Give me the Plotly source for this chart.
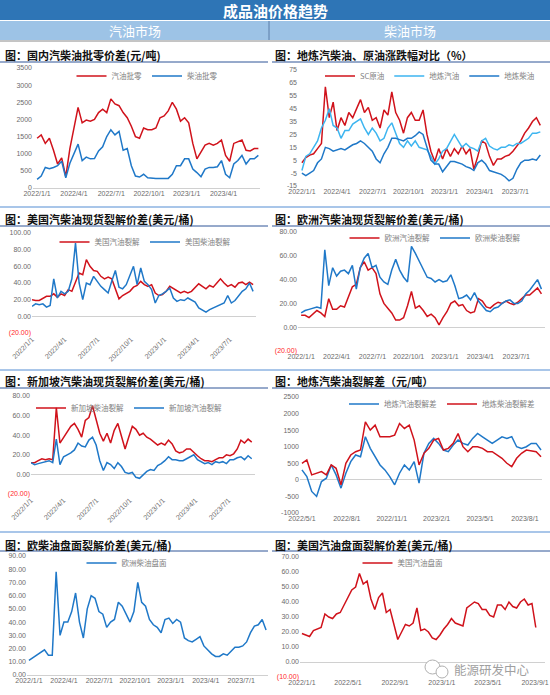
import pandas as pd
import plotly.graph_objects as go

W, H = 550, 695

# ---- values, one point every 10 days ----
retail_start = '2022-01-01'
retail_gasoline = [1450, 1550, 1300, 1450, 1100, 700, 880, 330, 1150, 1800,
                   2350, 1900, 1980, 1950, 2000, 2200, 2300, 2200, 2600, 2450,
                   2400, 2200, 2050, 1800, 1500, 1450, 1750, 1700, 1700, 1750,
                   2050, 2100, 2250, 2500, 2300, 1950, 2050, 1900, 1300, 850,
                   1050, 1250, 1300, 1250, 1300, 1400, 950, 780, 1300, 1350,
                   1400, 1100, 1080, 1150, 1150]
retail_diesel = [250, 350, 600, 560, 600, 650, 780, 300, 720, 1000,
                 1280, 800, 900, 850, 860, 1080, 1200, 1500, 1700, 1550,
                 1650, 1100, 1150, 650, 350, 320, 400, 300, 280, 280,
                 280, 280, 280, 400, 650, 650, 850, 850, 550, 450,
                 330, 550, 600, 600, 620, 800, 400, 300, 700, 800,
                 950, 700, 850, 850, 950]

pct_start = '2022-01-01'
sc_crude_pct = [3, 7, 9, 10, 14, 18, 62, 38, 50, 28,
                38, 32, 42, 38, 45, 52, 42, 46, 36, 38,
                30, 44, 40, 58, 42, 36, 26, 38, 42, 36,
                36, 44, 25, 12, 4, 14, 6, 14, 8, 14,
                10, 16, 10, 14, -2, 8, 20, 18, 8, 1,
                6, 6, 8, 9, 12, 16, 20, 26, 30, 35,
                38, 32]
local_gasoline_pct = [-3, 8, 10, 15, 20, 30, 36, 45, 32, 30,
                      22, 28, 28, 33, 35, 37, 30, 25, 30, 26,
                      20, 22, 30, 34, 26, 18, 15, 20, 16, 20,
                      15, 14, 13, 8, 2, 6, 12, 14, 20, 25,
                      20, 15, 18, 15, 14, 12, 20, 22, 16, 14,
                      13, 15, 15, 17, 16, 18, 18, 20, 22, 26,
                      26, 27]
local_diesel_pct = [-5, -7, -5, -3, 3, 6, 15, 14, 12, 13,
                    14, 13, 15, 17, 18, 20, 18, 15, 12, 6,
                    3, 10, 15, 22, 22, 21, 20, 22, 22, 24,
                    27, 25, 15, 5, 2, 2, -4, 0, 4, 4,
                    3, 2, 0, -1, -3, 3, 5, 2, -3, -4,
                    -5, -6, -8, -11, -9, -2, 3, 5, 5, 6,
                    5, 9]

crack_start = '2022-01-01'
us_gasoline_crack = [20, 19, 19, 21, 24, 24, 27, 23, 27, 25,
                     32, 30, 40, 52, 50, 68, 60, 55, 54, 48,
                     45, 47, 45, 32, 21, 25, 28, 30, 35, 37,
                     42, 38, 36, 38, 28, 25, 26, 30, 36, 33,
                     30, 28, 30, 28, 30, 35, 39, 36, 33, 37,
                     35, 40, 45, 40, 36, 38, 35, 40, 41, 38,
                     41, 38]
us_diesel_crack = [12, 15, 14, 15, 11, 13, 45, 22, 30, 27,
                   30, 45, 88, 40, 20, 40, 38, 48, 42, 36,
                   32, 28, 42, 55, 35, 33, 38, 48, 60, 38,
                   58, 42, 38, 32, 16, 25, 27, 30, 34, 22,
                   18, 20, 19, 22, 20, 17, 10, 7, 5, 8,
                   10, 12, 14, 16, 25, 16, 19, 24, 30, 33,
                   40, 30]
eu_gasoline_crack = [10, 10, 8, 11, 14, 12, 9, 24, 15, 15,
                     18, 17, 26, 34, 36, 50, 55, 48, 50, 45,
                     28, 20, 16, 12, 6, 6, 8, 18, 30, 16,
                     18, 14, 9, 11, 8, 2, 8, 13, 20, 22,
                     18, 19, 14, 12, 13, 24, 22, 17, 16, 19,
                     21, 20, 22, 20, 19, 21, 24, 27, 27, 30,
                     33, 28]
eu_diesel_crack = [12, 14, 15, 16, 17, 16, 65, 35, 50, 43,
                   47, 48, 45, 52, 32, 50, 58, 62, 50, 52,
                   42, 38, 36, 48, 57, 48, 42, 38, 68, 62,
                   55, 48, 42, 41, 38, 40, 38, 39, 44, 35,
                   24, 25, 27, 23, 29, 22, 18, 14, 13, 16,
                   17, 20, 22, 23, 20, 20, 22, 28, 31, 36,
                   40, 32]
sg_diesel_crack = [12, 12, 14, 16, 15, 16, 15, 68, 32, 38,
                   44, 49, 52, 46, 38, 55, 58, 70, 56, 42,
                   34, 42, 32, 45, 52, 40, 26, 38, 49, 46,
                   40, 42, 38, 36, 33, 30, 32, 30, 35, 31,
                   24, 22, 23, 26, 26, 22, 19, 16, 14, 14,
                   13, 15, 17, 17, 20, 19, 21, 26, 35, 32,
                   36, 33]
sg_gasoline_crack = [12, 10, 11, 12, 13, 14, 12, 36, 10, 18,
                     20, 22, 25, 32, 29, 28, 35, 38, 30, 14,
                     4, 12, 10, 6, 12, 8, 2, 1, 2, -3,
                     -4, 0, 3, 5, 4, 9, 11, 14, 18, 15,
                     15, 14, 14, 16, 18, 20, 15, 13, 11, 12,
                     10, 13, 12, 13, 11, 15, 15, 17, 18, 15,
                     19, 16]

local_crack_start = '2022-05-01'
local_gasoline_crack = [300, 100, -350, -500, -50, 50, 450, 150, -250, 200,
                        550, 750, 700, 1300, 950, 700, 450, 300, 100, -150,
                        200, 450, 300, 550, -100, 800, 1100, 1250, 1100, 900,
                        850, 1050, 1200, 1100, 1050, 1250, 1400, 1300, 1200, 1100,
                        1200, 1300, 1250, 1300, 1000, 950, 1000, 1100, 1100, 900]
local_diesel_crack = [500, 600, 150, 200, 250, 150, 450, 350, -150, 500,
                      750, 850, 900, 1750, 1500, 1650, 1300, 1300, 1300, 1350,
                      1700, 1550, 1650, 1200, 450, 800, 950, 1200, 1250, 900,
                      950, 1100, 1400, 1000, 850, 1000, 1000, 950, 850, 850,
                      750, 650, 500, 400, 650, 800, 900, 880, 850, 700]

futures_start = '2022-01-01'
eu_diesel_futures = [11, 13, 15, 17, 19, 15, 15, 78, 30, 40,
                     40, 48, 62, 40, 28, 50, 60, 58, 48, 46,
                     36, 40, 42, 55, 52, 46, 40, 48, 70, 55,
                     52, 42, 38, 36, 32, 42, 43, 39, 42, 40,
                     28, 26, 25, 27, 29, 22, 19, 16, 14, 14,
                     16, 15, 18, 21, 21, 22, 25, 32, 37, 38,
                     42, 34]
us_gasoline_futures = [19, 18, 17, 21, 22, 23, 32, 30, 29, 32,
                       33, 38, 44, 48, 50, 59, 52, 54, 42, 35,
                       43, 46, 33, 35, 25, 15, 20, 25, 24, 26,
                       36, 21, 22, 20, 16, 15, 18, 22, 25, 29,
                       26, 25, 24, 36, 38, 40, 39, 35, 35, 31,
                       30, 38, 38, 35, 40, 37, 36, 40, 42, 38,
                       39, 23]

quarter_ticks = ['2022-01-01', '2022-04-01', '2022-07-01', '2022-10-01',
                 '2023-01-01', '2023-04-01', '2023-07-01']
local_ticks = ['2022-05-01', '2022-08-01', '2022-11-01',
               '2023-02-01', '2023-05-01', '2023-08-01']
four_month_ticks = ['2022-01-01', '2022-05-01', '2022-09-01',
                    '2023-01-01', '2023-05-01', '2023-09-01']

RED = '#d0121b'
BLUE = '#1f78c8'
SKY = '#3db5f0'
GRAY = '#6b6b6b'
NEG = '#ff2a2a'
FONT = 'Liberation Sans, Noto Sans CJK SC, sans-serif'
CJK = 'Noto Sans CJK SC, sans-serif'


def px(x):
    return x / W


def py(y):
    return 1 - y / H


def days(start, values):
    return pd.date_range(start, periods=len(values), freq='10D')


def date_label(d):
    d = pd.Timestamp(d)
    return f'{d.year}/{d.month}/{d.day}'


def money(v):
    if v < 0:
        return f'<span style="color:{NEG}">({abs(v):.2f})</span>'
    return f'{v:.2f}'


panels = [
    dict(title='图：国内汽柴油批零价差(元/吨)', tx=3, ty=55,
         xdom=(33, 260), ydom=(68, 188),
         xrange=('2021-12-22', '2023-06-29'), yrange=(0, 3500),
         xticks=quarter_ticks[:6], yticks=list(range(0, 3501, 500)), fmt=str,
         angle=0, leg=(147, 76), zero=True,
         series=[('汽油批零', retail_start, retail_gasoline, RED),
                 ('柴油批零', retail_start, retail_diesel, BLUE)]),
    dict(title='图：地炼汽柴油、原油涨跌幅对比（%）', tx=273, ty=55,
         xdom=(298, 545), ydom=(70, 186),
         xrange=('2021-12-22', '2023-09-15'), yrange=(-15, 75),
         xticks=quarter_ticks, yticks=list(range(-15, 76, 10)), fmt=str,
         angle=0, leg=(430, 76), zero=False,
         series=[('SC原油', pct_start, sc_crude_pct, RED),
                 ('地炼汽油', pct_start, local_gasoline_pct, SKY),
                 ('地炼柴油', pct_start, local_diesel_pct, BLUE)]),
    dict(title='图：美国汽柴油现货裂解价差(美元/桶)', tx=3, ty=219,
         xdom=(32, 256), ydom=(233, 333),
         xrange=('2022-01-01', '2023-09-11'), yrange=(-20, 100),
         xticks=quarter_ticks, yticks=list(range(-20, 101, 20)), fmt=money,
         angle=-45, leg=(145, 242), zero=True,
         series=[('美国汽油裂解', crack_start, us_gasoline_crack, RED),
                 ('美国柴油裂解', crack_start, us_diesel_crack, BLUE)]),
    dict(title='图：欧洲汽柴油现货裂解价差(美元/桶)', tx=273, ty=219,
         xdom=(298, 545), ydom=(232, 351),
         xrange=('2021-12-24', '2023-09-12'), yrange=(-20, 80),
         xticks=quarter_ticks, yticks=list(range(-20, 81, 20)), fmt=money,
         angle=0, leg=(435, 238), zero=True,
         series=[('欧洲汽油裂解', crack_start, eu_gasoline_crack, RED),
                 ('欧洲柴油裂解', crack_start, eu_diesel_crack, BLUE)]),
    dict(title='图：新加坡汽柴油现货裂解价差(美元/桶)', tx=3, ty=381,
         xdom=(31, 255), ydom=(396, 494),
         xrange=('2022-01-01', '2023-09-12'), yrange=(-20, 80),
         xticks=quarter_ticks, yticks=list(range(-20, 81, 20)), fmt=money,
         angle=-45, leg=(129, 408), zero=True,
         series=[('新加坡柴油裂解', crack_start, sg_diesel_crack, RED),
                 ('新加坡汽油裂解', crack_start, sg_gasoline_crack, BLUE)]),
    dict(title='图：地炼汽柴油裂解差（元/吨）', tx=273, ty=381,
         xdom=(300, 542), ydom=(397, 513),
         xrange=('2022-04-27', '2023-09-05'), yrange=(-1000, 2500),
         xticks=local_ticks, yticks=list(range(-1000, 2501, 500)), fmt=str,
         angle=0, leg=(442, 404), zero=True,
         series=[('地炼汽油裂解差', local_crack_start, local_gasoline_crack, BLUE),
                 ('地炼柴油裂解差', local_crack_start, local_diesel_crack, RED)]),
    dict(title='图：欧柴油盘面裂解价差(美元/桶)', tx=3, ty=545,
         xdom=(27, 268), ydom=(556, 675),
         xrange=('2021-12-27', '2023-09-08'), yrange=(0, 90),
         xticks=quarter_ticks, yticks=list(range(0, 91, 10)), fmt=money,
         angle=0, leg=(127, 563), zero=True,
         series=[('欧洲柴油盘面', futures_start, eu_diesel_futures, BLUE)]),
    dict(title='图：美国汽油盘面裂解价差(美元/桶)', tx=273, ty=545,
         xdom=(300, 545), ydom=(557, 677),
         xrange=('2021-12-27', '2023-09-27'), yrange=(-10, 70),
         xticks=four_month_ticks, yticks=list(range(-10, 71, 10)), fmt=money,
         angle=0, leg=(403, 563), zero=True,
         series=[('美国汽油盘面', futures_start, us_gasoline_futures, RED)]),
]

fig = go.Figure()
layout = {}
annotations = []
shapes = []

for i, p in enumerate(panels, start=1):
    sfx = '' if i == 1 else str(i)
    leg_key = 'legend' + sfx
    for name, start, vals, color in p['series']:
        fig.add_trace(go.Scatter(
            x=days(start, vals), y=vals, mode='lines', name=name,
            line=dict(color=color, width=1.5),
            xaxis='x' + sfx, yaxis='y' + sfx, legend=leg_key,
            hoverinfo='skip',
        ))

    layout['xaxis' + sfx] = dict(
        domain=[px(p['xdom'][0]), px(p['xdom'][1])],
        anchor='y' + sfx, type='date', range=list(p['xrange']),
        tickvals=p['xticks'], ticktext=[date_label(d) for d in p['xticks']],
        tickangle=p['angle'], showgrid=False, zeroline=False, showline=False,
        ticks='', automargin=False,
        tickfont=dict(size=7, color=GRAY, family=FONT),
    )
    layout['yaxis' + sfx] = dict(
        domain=[py(p['ydom'][1]), py(p['ydom'][0])],
        anchor='x' + sfx, range=list(p['yrange']),
        tickvals=p['yticks'], ticktext=[p['fmt'](v) for v in p['yticks']],
        showgrid=False, zeroline=p['zero'], zerolinecolor='#d0d0d0',
        zerolinewidth=1, showline=False, ticks='', automargin=False,
        tickfont=dict(size=7, color=GRAY, family=FONT),
    )
    layout[leg_key] = dict(
        x=px(p['leg'][0]), y=py(p['leg'][1]), xanchor='center', yanchor='middle',
        orientation='h', bgcolor='rgba(0,0,0,0)', itemwidth=30,
        font=dict(size=7.5, color='#808080', family=CJK),
    )
    annotations.append(dict(
        text=p['title'], x=px(p['tx']), y=py(p['ty']), xref='paper', yref='paper',
        xanchor='left', yanchor='middle', showarrow=False,
        font=dict(size=11, color='#111111', family=CJK, weight=700),
    ))

# header bars
shapes += [
    dict(type='rect', xref='paper', yref='paper', x0=0, x1=1, y0=py(20), y1=1,
         fillcolor='#2e75b6', line=dict(width=0), layer='below'),
    dict(type='rect', xref='paper', yref='paper', x0=0, x1=1, y0=py(40), y1=py(21),
         fillcolor='#9dc3e6', line=dict(width=0), layer='below'),
    dict(type='line', xref='paper', yref='paper', x0=0, x1=1, y0=py(41), y1=py(41),
         line=dict(color='#8a8a8a', width=1)),
    dict(type='line', xref='paper', yref='paper', x0=px(269), x1=px(269), y0=py(40), y1=py(21),
         line=dict(color='#5a7ca8', width=1)),
]
for y in (207, 370, 532):
    shapes.append(dict(type='line', xref='paper', yref='paper', x0=0, x1=1,
                       y0=py(y), y1=py(y), line=dict(color='#8db3e2', width=1.5)))
for y in (62, 226, 388, 551):
    for x0, x1 in ((0, 268), (272, 550)):
        shapes.append(dict(type='line', xref='paper', yref='paper', x0=px(x0), x1=px(x1),
                           y0=py(y), y1=py(y), line=dict(color='#2f5597', width=1)))

# wechat-style mark next to the watermark
shapes += [
    dict(type='circle', xref='paper', yref='paper', x0=px(425), x1=px(440),
         y0=py(674), y1=py(660), line=dict(color='#b0b0b0', width=1), fillcolor='white'),
    dict(type='circle', xref='paper', yref='paper', x0=px(436), x1=px(448),
         y0=py(678), y1=py(666), line=dict(color='#b0b0b0', width=1), fillcolor='white'),
]


def note(text, x, y, size, color, weight=400):
    return dict(text=text, x=px(x), y=py(y), xref='paper', yref='paper',
                xanchor='center', yanchor='middle', showarrow=False,
                font=dict(size=size, color=color, family=CJK, weight=weight))


annotations += [
    note('成品油价格趋势', 275, 10.5, 15, 'white', 700),
    note('汽油市场', 135, 31, 13, 'white'),
    note('柴油市场', 410, 31, 13, 'white'),
    note('能源研发中心', 492, 669, 12.5, '#a0a0a0'),
]

fig.update_layout(
    width=W, height=H, margin=dict(l=0, r=0, t=0, b=0, pad=0, autoexpand=False),
    paper_bgcolor='white', plot_bgcolor='white',
    showlegend=True, annotations=annotations, shapes=shapes,
    font=dict(family=FONT), **layout,
)

fig.write_html('out.html', config={'displayModeBar': False},
               post_script="document.body.style.margin='0px';")
